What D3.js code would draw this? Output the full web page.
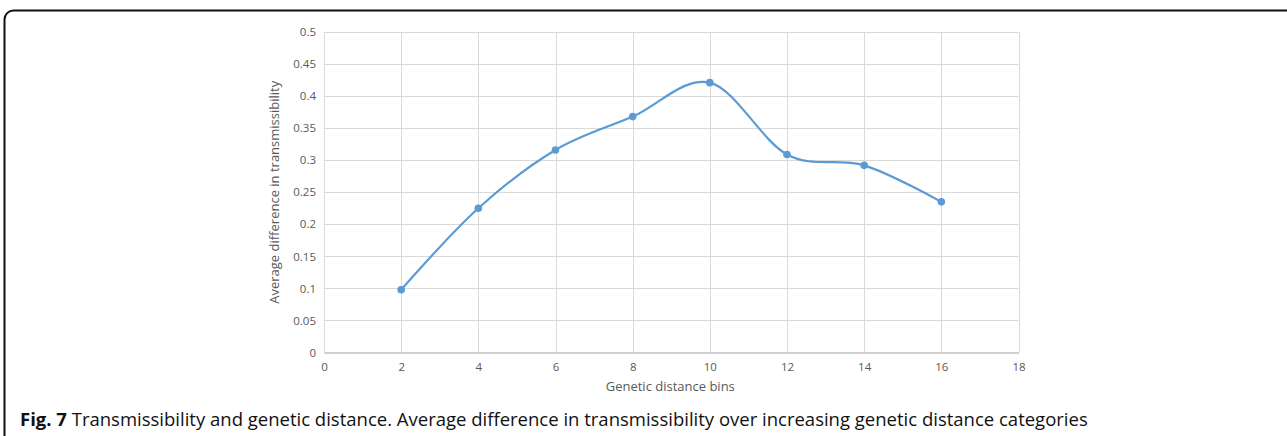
<!DOCTYPE html>
<html lang="en">
<head>
    <meta charset="UTF-8">
    <title>Fig. 7 Transmissibility and genetic distance</title>
    <script src="https://d3js.org/d3.v7.min.js"></script>
    <style>
        html, body { margin: 0; padding: 0; background: #fff; }
        svg { display: block; }
    </style>
</head>
<body>
    <svg id="chart" width="1287" height="436"></svg>

    <script>
        // values
        const bins = [2, 4, 6, 8, 10, 12, 14, 16];
        const avgDiff = [0.098, 0.225, 0.316, 0.368, 0.421, 0.309, 0.292, 0.235];
        const xTicks = [0, 2, 4, 6, 8, 10, 12, 14, 16, 18];
        const yTicks = [0, 0.05, 0.1, 0.15, 0.2, 0.25, 0.3, 0.35, 0.4, 0.45, 0.5];

        const captionBold = "Fig. 7";
        const captionText = " Transmissibility and genetic distance. Average difference in transmissibility over increasing genetic distance categories";

        const svg = d3.select("#chart");
        const plot = { left: 324, right: 1018.5, top: 32, bottom: 352.5 };
        const tickFont = "'Open Sans', 'DejaVu Sans', sans-serif";
        const grey = "#595959";

        // figure frame
        svg.append("rect")
            .attr("x", 4.5).attr("y", 10.5)
            .attr("width", 1300).attr("height", 460)
            .attr("rx", 9).attr("ry", 9)
            .attr("fill", "none")
            .attr("stroke", "#111")
            .attr("stroke-width", 2);

        const x = d3.scaleLinear().domain([0, 18]).range([plot.left, plot.right]);
        const y = d3.scaleLinear().domain([0, 0.5]).range([plot.bottom, plot.top]);

        // gridlines
        svg.append("g")
            .selectAll("line.h")
            .data(yTicks.slice(1))
            .join("line")
            .attr("x1", plot.left).attr("x2", plot.right)
            .attr("y1", d => Math.round(y(d)) + 0.5).attr("y2", d => Math.round(y(d)) + 0.5)
            .attr("stroke", "#d9d9d9").attr("stroke-width", 1);

        svg.append("g")
            .selectAll("line.v")
            .data(xTicks.slice(1))
            .join("line")
            .attr("x1", d => Math.round(x(d)) + 0.5).attr("x2", d => Math.round(x(d)) + 0.5)
            .attr("y1", plot.top).attr("y2", plot.bottom)
            .attr("stroke", "#d9d9d9").attr("stroke-width", 1);

        // axes
        const xAxis = svg.append("g")
            .attr("transform", `translate(0,${plot.bottom})`)
            .call(d3.axisBottom(x).tickValues(xTicks).tickSize(0).tickPadding(10).tickFormat(d3.format("d")));
        xAxis.select(".domain").attr("stroke", "#bfbfbf").attr("stroke-width", 1.3);

        const yAxis = svg.append("g")
            .attr("transform", `translate(${plot.left},0)`)
            .call(d3.axisLeft(y).tickValues(yTicks).tickSize(0).tickPadding(8).tickFormat(d => String(+d.toFixed(2))));
        yAxis.select(".domain").attr("stroke", "#d9d9d9");

        svg.selectAll(".tick text")
            .attr("fill", grey)
            .style("font-family", tickFont)
            .style("font-size", "11.5px");

        // axis titles
        svg.append("text")
            .attr("x", (plot.left + plot.right) / 2 - 1)
            .attr("y", 391)
            .attr("text-anchor", "middle")
            .attr("fill", grey)
            .style("font-family", tickFont)
            .style("font-size", "13px")
            .text("Genetic distance bins");

        svg.append("text")
            .attr("transform", `translate(279,${(plot.top + plot.bottom) / 2}) rotate(-90)`)
            .attr("text-anchor", "middle")
            .attr("fill", grey)
            .style("font-family", tickFont)
            .style("font-size", "13px")
            .text("Average difference in transmissibility");

        // smoothed series line
        const pts = bins.map((b, i) => ({ bin: b, val: avgDiff[i] }));
        const line = d3.line()
            .x(d => x(d.bin))
            .y(d => y(d.val))
            .curve(d3.curveCardinal.tension(0));

        svg.append("path")
            .datum(pts)
            .attr("fill", "none")
            .attr("stroke", "#5b9bd5")
            .attr("stroke-width", 2.2)
            .attr("stroke-linejoin", "round")
            .attr("stroke-linecap", "round")
            .attr("d", line);

        svg.append("g")
            .selectAll("circle")
            .data(pts)
            .join("circle")
            .attr("cx", d => x(d.bin))
            .attr("cy", d => y(d.val))
            .attr("r", 3.8)
            .attr("fill", "#5b9bd5");

        // caption
        const cap = svg.append("text")
            .attr("x", 20)
            .attr("y", 426)
            .attr("fill", "#111")
            .style("font-family", "'Open Sans', 'Noto Sans', sans-serif")
            .style("font-size", "18.5px");
        cap.append("tspan").attr("font-weight", "bold").text(captionBold);
        cap.append("tspan").text(captionText);
    </script>
</body>
</html>
